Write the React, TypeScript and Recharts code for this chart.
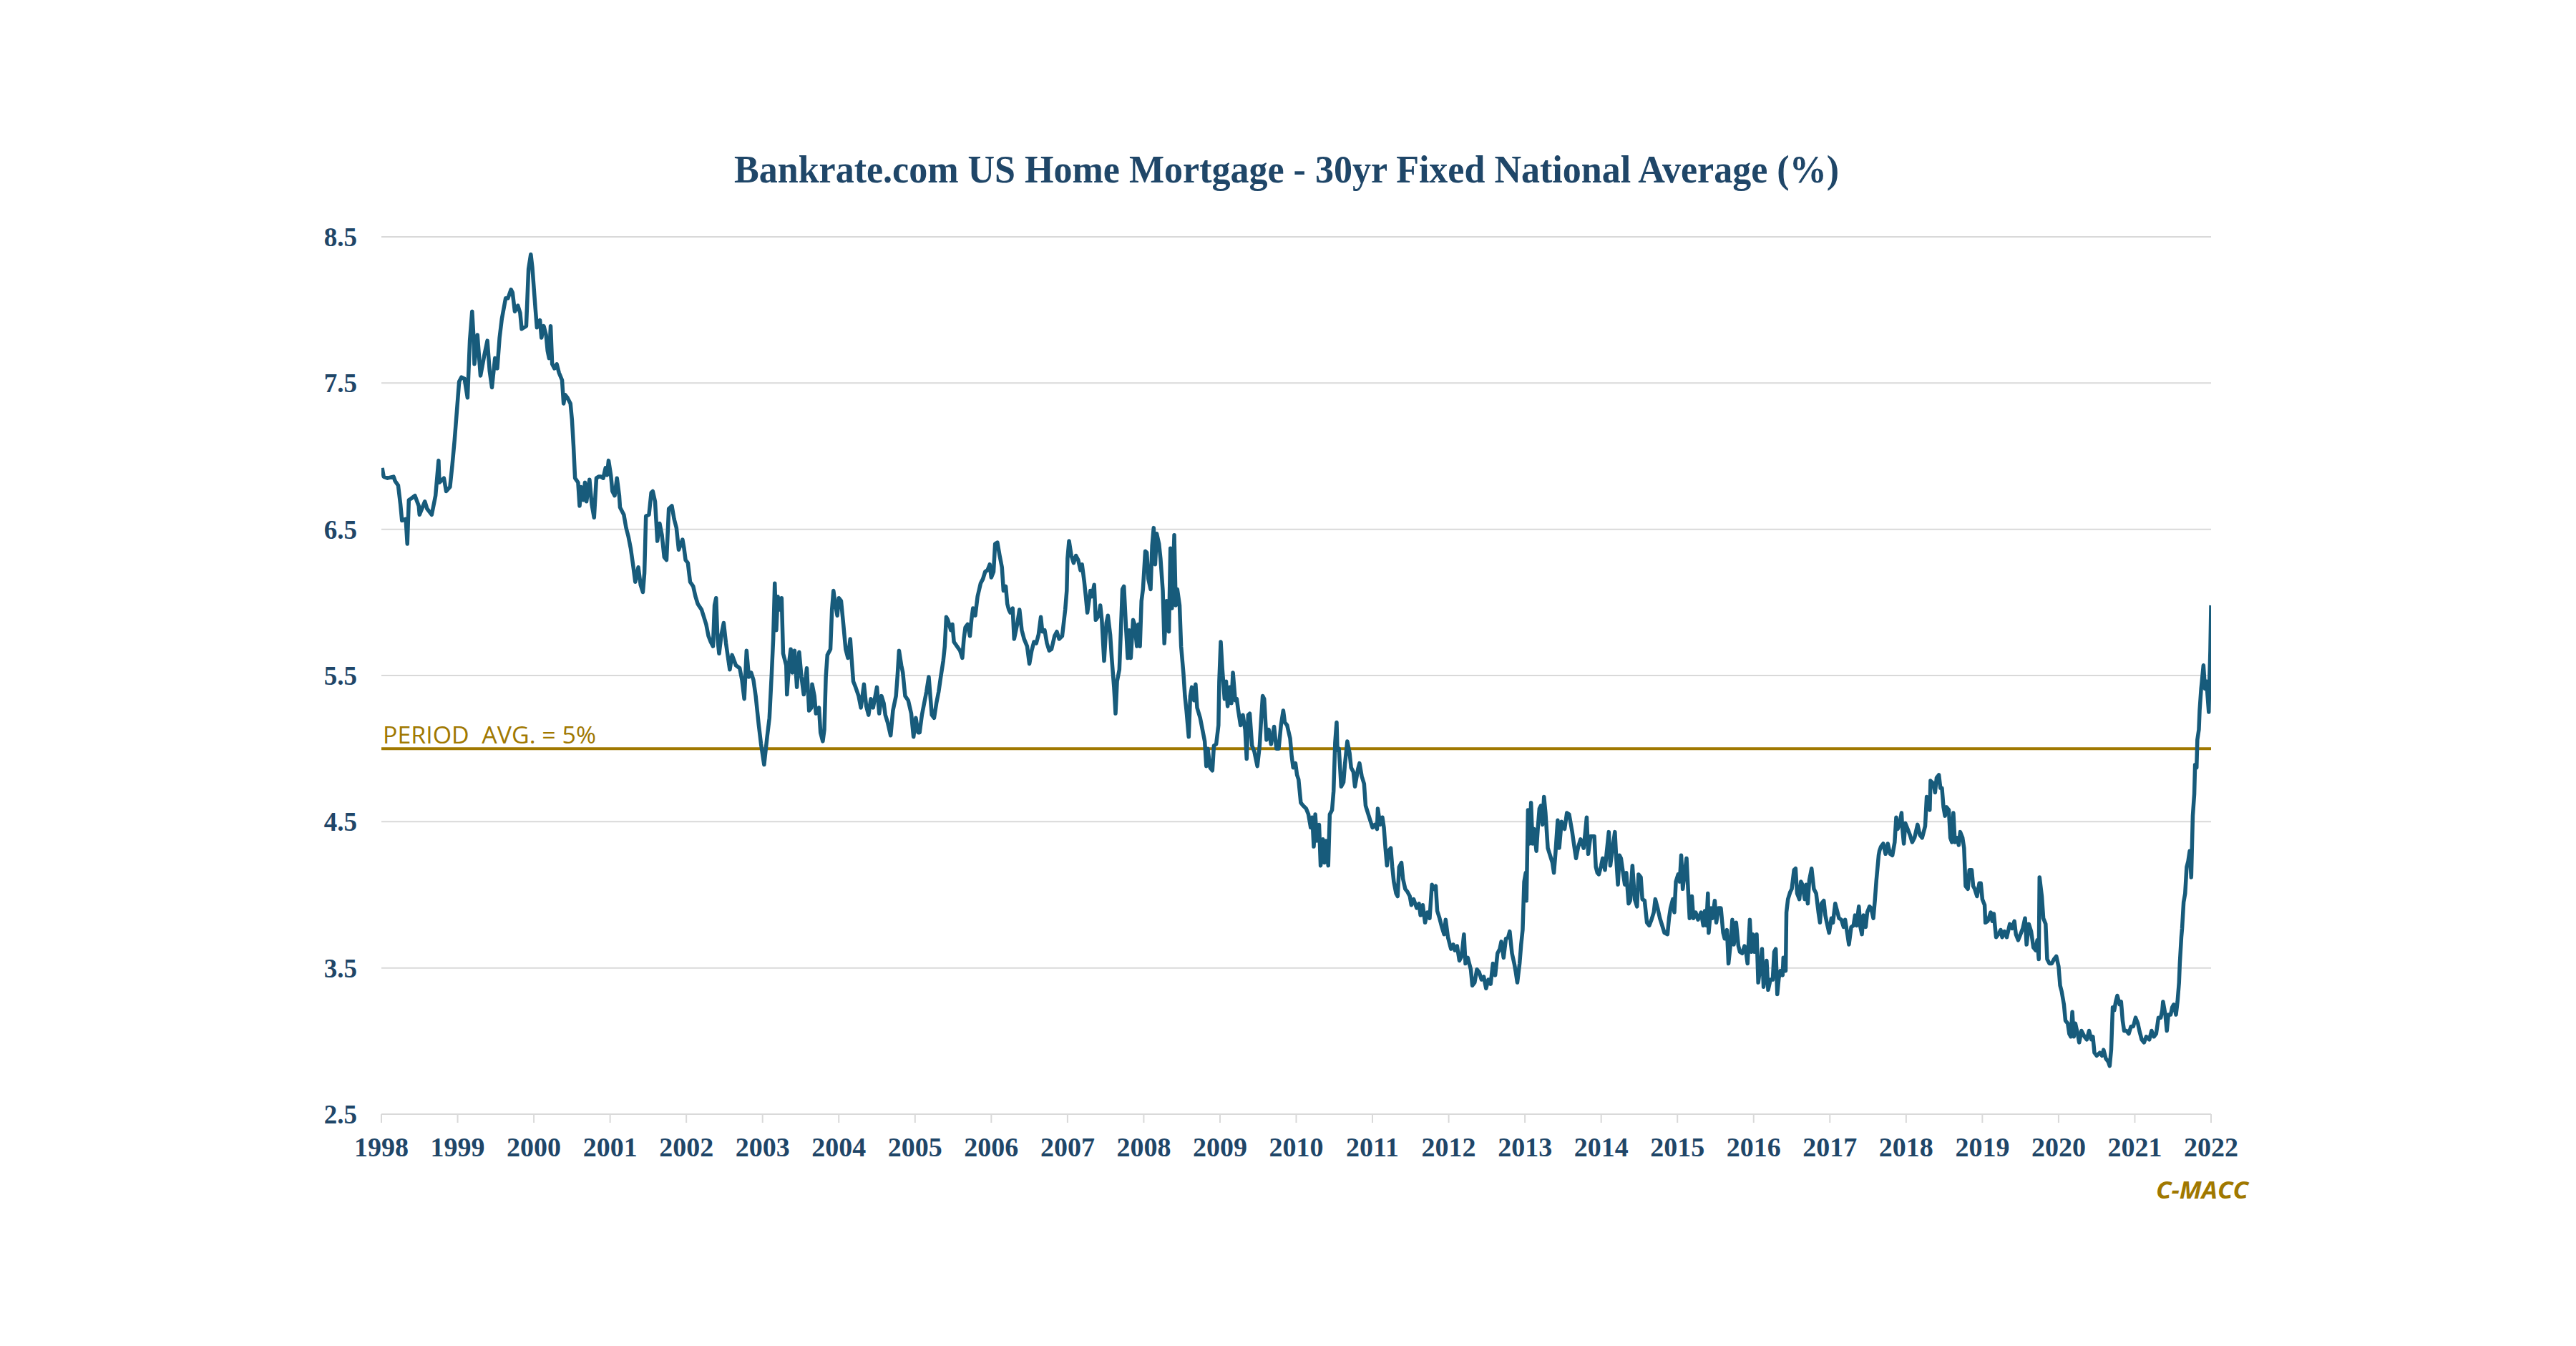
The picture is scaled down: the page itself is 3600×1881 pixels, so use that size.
import { CartesianGrid, Line, LineChart, ReferenceLine, XAxis, YAxis } from "recharts";

// Bankrate.com 30yr fixed national average as [year, rate %]
const rates1998: [number, number][] = [
  [1998.01, 6.92], [1998.03, 6.86], [1998.08, 6.85], [1998.16, 6.86], [1998.18, 6.83], [1998.22, 6.8],
  [1998.25, 6.67], [1998.27, 6.56], [1998.32, 6.57], [1998.34, 6.4], [1998.36, 6.7], [1998.39, 6.71],
  [1998.44, 6.73], [1998.49, 6.66], [1998.5, 6.6], [1998.57, 6.69], [1998.6, 6.64], [1998.66, 6.6],
  [1998.71, 6.73], [1998.75, 6.97], [1998.76, 6.82], [1998.82, 6.85], [1998.85, 6.76], [1998.9, 6.79],
  [1998.93, 6.94], [1998.96, 7.11], [1998.99, 7.31], [1999.02, 7.51], [1999.05, 7.54], [1999.09, 7.53],
  [1999.13, 7.4], [1999.16, 7.79], [1999.19, 7.99], [1999.21, 7.81], [1999.22, 7.63], [1999.26, 7.83],
  [1999.3, 7.55], [1999.35, 7.69], [1999.39, 7.79], [1999.42, 7.58], [1999.45, 7.47], [1999.49, 7.67],
  [1999.52, 7.6], [1999.55, 7.81], [1999.58, 7.94], [1999.63, 8.08], [1999.66, 8.08], [1999.7, 8.14],
  [1999.72, 8.12], [1999.75, 7.99], [1999.79, 8.03], [1999.82, 7.98], [1999.84, 7.87], [1999.9, 7.89],
  [1999.93, 8.28], [1999.96, 8.38], [1999.98, 8.29], [2000.02, 8.01], [2000.04, 7.88], [2000.08, 7.93],
  [2000.1, 7.81], [2000.13, 7.89], [2000.16, 7.83], [2000.18, 7.72], [2000.2, 7.67], [2000.22, 7.89],
  [2000.24, 7.63], [2000.27, 7.6], [2000.3, 7.63], [2000.33, 7.57], [2000.37, 7.52], [2000.39, 7.36],
  [2000.41, 7.42], [2000.44, 7.4], [2000.48, 7.36], [2000.5, 7.25], [2000.52, 7.07], [2000.54, 6.85],
  [2000.58, 6.82], [2000.6, 6.66], [2000.62, 6.79], [2000.65, 6.7], [2000.67, 6.82], [2000.69, 6.69],
  [2000.73, 6.84], [2000.76, 6.67], [2000.79, 6.58], [2000.82, 6.85], [2000.85, 6.86], [2000.88, 6.86],
  [2000.91, 6.85], [2000.94, 6.92], [2000.96, 6.87], [2000.98, 6.97], [2001.01, 6.87], [2001.03, 6.76],
  [2001.06, 6.73], [2001.09, 6.85], [2001.12, 6.73], [2001.13, 6.65], [2001.18, 6.6], [2001.21, 6.51],
  [2001.24, 6.45], [2001.27, 6.37], [2001.3, 6.26], [2001.33, 6.14], [2001.37, 6.24], [2001.4, 6.12],
  [2001.43, 6.07], [2001.45, 6.2], [2001.47, 6.59], [2001.51, 6.6], [2001.54, 6.75], [2001.56, 6.76],
  [2001.59, 6.69], [2001.62, 6.42], [2001.65, 6.54], [2001.68, 6.46], [2001.71, 6.31], [2001.74, 6.29],
  [2001.77, 6.64], [2001.81, 6.66], [2001.84, 6.57], [2001.87, 6.51], [2001.9, 6.36],
];

const rates2002: [number, number][] = [
  [2001.95, 6.43], [2001.97, 6.37], [2001.99, 6.29], [2002.02, 6.27], [2002.05, 6.14], [2002.09, 6.11],
  [2002.12, 6.04], [2002.15, 5.99], [2002.2, 5.95], [2002.23, 5.9], [2002.26, 5.85], [2002.29, 5.77],
  [2002.32, 5.73], [2002.35, 5.7], [2002.37, 5.98], [2002.39, 6.03], [2002.41, 5.75], [2002.43, 5.65],
  [2002.46, 5.78], [2002.49, 5.86], [2002.52, 5.72], [2002.57, 5.54], [2002.6, 5.64], [2002.65, 5.57],
  [2002.7, 5.55], [2002.73, 5.47], [2002.76, 5.34], [2002.79, 5.67], [2002.82, 5.49], [2002.85, 5.52],
  [2002.88, 5.47], [2002.91, 5.36], [2002.95, 5.16], [2002.98, 5.03], [2003.02, 4.89], [2003.06, 5.08],
  [2003.09, 5.21], [2003.12, 5.52], [2003.14, 5.75], [2003.16, 6.13], [2003.18, 5.81], [2003.2, 6.04],
  [2003.23, 5.95], [2003.25, 6.03], [2003.27, 5.65], [2003.31, 5.57], [2003.32, 5.37], [2003.35, 5.6],
  [2003.37, 5.68], [2003.39, 5.52], [2003.42, 5.67], [2003.45, 5.42], [2003.48, 5.66], [2003.51, 5.49],
  [2003.54, 5.37], [2003.58, 5.55], [2003.61, 5.26], [2003.64, 5.28], [2003.65, 5.44], [2003.68, 5.36],
  [2003.7, 5.24], [2003.74, 5.28], [2003.76, 5.11], [2003.79, 5.05], [2003.81, 5.13], [2003.83, 5.49],
  [2003.85, 5.64], [2003.89, 5.68], [2003.91, 5.95], [2003.93, 6.08], [2003.95, 6.0], [2003.98, 5.91],
  [2004.0, 6.03], [2004.03, 6.01], [2004.06, 5.85], [2004.09, 5.68], [2004.12, 5.62], [2004.15, 5.75],
  [2004.17, 5.6], [2004.19, 5.46], [2004.22, 5.42], [2004.26, 5.36], [2004.29, 5.28], [2004.33, 5.44],
  [2004.36, 5.29], [2004.39, 5.23], [2004.42, 5.34], [2004.45, 5.28], [2004.5, 5.42], [2004.53, 5.24],
  [2004.56, 5.36], [2004.59, 5.31], [2004.61, 5.23], [2004.64, 5.18], [2004.68, 5.09], [2004.71, 5.26],
  [2004.75, 5.36], [2004.77, 5.5], [2004.79, 5.67], [2004.82, 5.57], [2004.84, 5.52], [2004.87, 5.36],
  [2004.91, 5.33], [2004.95, 5.24], [2004.98, 5.08], [2005.01, 5.21], [2005.04, 5.11], [2005.06, 5.11],
  [2005.09, 5.23], [2005.12, 5.31], [2005.15, 5.39], [2005.18, 5.49], [2005.2, 5.36], [2005.22, 5.23],
  [2005.25, 5.21], [2005.28, 5.31], [2005.31, 5.39], [2005.34, 5.5], [2005.37, 5.6], [2005.39, 5.7],
  [2005.41, 5.9], [2005.43, 5.88], [2005.47, 5.81], [2005.49, 5.85], [2005.51, 5.73], [2005.55, 5.7],
  [2005.59, 5.67], [2005.62, 5.62], [2005.64, 5.75], [2005.66, 5.83], [2005.69, 5.85], [2005.72, 5.77],
  [2005.74, 5.88], [2005.76, 5.96], [2005.79, 5.91], [2005.82, 6.04], [2005.86, 6.13], [2005.89, 6.16],
  [2005.92, 6.21],
];

const rates2006: [number, number][] = [
  [2005.95, 6.22], [2005.98, 6.26], [2006.0, 6.17], [2006.03, 6.21], [2006.05, 6.4], [2006.08, 6.41],
  [2006.11, 6.32], [2006.14, 6.24], [2006.16, 6.08], [2006.19, 6.11], [2006.21, 5.99], [2006.23, 5.95],
  [2006.25, 5.93], [2006.28, 5.96], [2006.3, 5.75], [2006.34, 5.85], [2006.37, 5.95], [2006.4, 5.81],
  [2006.43, 5.75], [2006.47, 5.7], [2006.5, 5.58], [2006.53, 5.67], [2006.56, 5.73], [2006.59, 5.72],
  [2006.62, 5.78], [2006.65, 5.9], [2006.67, 5.8], [2006.7, 5.81], [2006.73, 5.72], [2006.76, 5.67],
  [2006.79, 5.68], [2006.83, 5.77], [2006.86, 5.8], [2006.89, 5.75], [2006.93, 5.77], [2006.97, 5.95],
  [2006.99, 6.08], [2007.0, 6.3], [2007.02, 6.42], [2007.05, 6.32], [2007.08, 6.27], [2007.11, 6.32],
  [2007.14, 6.29], [2007.17, 6.22], [2007.19, 6.26], [2007.22, 6.14], [2007.24, 6.04], [2007.26, 5.93],
  [2007.3, 6.08], [2007.32, 6.04], [2007.35, 6.12], [2007.37, 5.88], [2007.41, 5.91], [2007.43, 5.98],
  [2007.45, 5.88], [2007.48, 5.6], [2007.51, 5.86], [2007.53, 5.91], [2007.56, 5.78], [2007.58, 5.62],
  [2007.61, 5.42], [2007.63, 5.24], [2007.65, 5.46], [2007.68, 5.54], [2007.7, 5.81], [2007.72, 6.09],
  [2007.74, 6.11], [2007.77, 5.8], [2007.79, 5.62], [2007.81, 5.81], [2007.83, 5.62], [2007.86, 5.88],
  [2007.88, 5.85], [2007.91, 5.7], [2007.93, 5.85], [2007.95, 5.7], [2007.97, 6.01], [2007.99, 6.09],
  [2008.02, 6.35], [2008.04, 6.34], [2008.06, 6.16], [2008.09, 6.09], [2008.11, 6.39], [2008.13, 6.51],
  [2008.15, 6.26], [2008.17, 6.47], [2008.2, 6.4], [2008.22, 6.3], [2008.25, 6.08], [2008.27, 5.72],
  [2008.3, 6.01], [2008.33, 5.8], [2008.35, 6.37], [2008.37, 5.96], [2008.4, 6.46], [2008.42, 5.98],
  [2008.44, 6.09], [2008.47, 5.98], [2008.49, 5.7], [2008.52, 5.52], [2008.54, 5.36], [2008.56, 5.26],
  [2008.59, 5.08], [2008.61, 5.36], [2008.63, 5.42], [2008.66, 5.33], [2008.68, 5.44], [2008.7, 5.28],
  [2008.74, 5.21], [2008.77, 5.13], [2008.8, 5.05], [2008.82, 4.88], [2008.84, 5.0], [2008.87, 4.87],
  [2008.9, 4.85], [2008.92, 5.02], [2008.95, 5.03], [2008.98, 5.16], [2008.99, 5.46], [2009.01, 5.73],
  [2009.03, 5.55], [2009.06, 5.34], [2009.08, 5.46], [2009.1, 5.29], [2009.13, 5.42], [2009.15, 5.31],
  [2009.17, 5.52], [2009.2, 5.33], [2009.22, 5.34], [2009.24, 5.26], [2009.27, 5.16], [2009.3, 5.23],
  [2009.33, 5.13], [2009.35, 4.93], [2009.37, 5.23], [2009.39, 5.24], [2009.42, 5.02], [2009.45, 4.98],
  [2009.49, 4.88], [2009.52, 5.02], [2009.54, 5.2], [2009.56, 5.36], [2009.58, 5.34], [2009.61, 5.06],
  [2009.64, 5.13], [2009.67, 5.03], [2009.71, 5.15], [2009.74, 5.0], [2009.77, 5.0], [2009.8, 5.16],
  [2009.83, 5.26], [2009.85, 5.18], [2009.88, 5.16],
];

const rates2010: [number, number][] = [
  [2009.92, 5.07], [2009.94, 4.95], [2009.96, 4.87], [2009.99, 4.9], [2010.01, 4.82], [2010.03, 4.79],
  [2010.06, 4.63], [2010.09, 4.61], [2010.13, 4.59], [2010.16, 4.55], [2010.19, 4.46], [2010.21, 4.53],
  [2010.23, 4.33], [2010.25, 4.55], [2010.27, 4.37], [2010.3, 4.48], [2010.32, 4.2], [2010.35, 4.38],
  [2010.37, 4.22], [2010.39, 4.37], [2010.42, 4.2], [2010.44, 4.55], [2010.47, 4.58], [2010.49, 4.71],
  [2010.51, 5.04], [2010.53, 5.18], [2010.54, 4.99], [2010.56, 5.0], [2010.59, 4.74], [2010.62, 4.77],
  [2010.64, 4.9], [2010.67, 5.05], [2010.7, 4.97], [2010.72, 4.87], [2010.75, 4.84], [2010.77, 4.74],
  [2010.81, 4.86], [2010.83, 4.9], [2010.86, 4.81], [2010.89, 4.76], [2010.91, 4.61], [2010.94, 4.56],
  [2010.97, 4.51], [2011.0, 4.46], [2011.03, 4.48], [2011.06, 4.45], [2011.07, 4.59], [2011.1, 4.48],
  [2011.13, 4.53], [2011.15, 4.46], [2011.17, 4.32], [2011.19, 4.2], [2011.21, 4.3], [2011.24, 4.32],
  [2011.26, 4.19], [2011.28, 4.09], [2011.31, 4.01], [2011.33, 3.99], [2011.35, 4.19], [2011.38, 4.22],
  [2011.4, 4.11], [2011.43, 4.04], [2011.46, 4.02], [2011.49, 3.99], [2011.51, 3.93], [2011.54, 3.97],
  [2011.58, 3.91], [2011.61, 3.94], [2011.63, 3.86], [2011.66, 3.93], [2011.69, 3.81], [2011.72, 3.88],
  [2011.75, 3.84], [2011.78, 4.07], [2011.8, 4.04], [2011.83, 4.06], [2011.85, 3.89], [2011.88, 3.84],
  [2011.91, 3.78], [2011.94, 3.73], [2011.96, 3.83], [2011.99, 3.71], [2012.03, 3.63], [2012.06, 3.66],
  [2012.08, 3.62], [2012.11, 3.65], [2012.14, 3.55], [2012.17, 3.58], [2012.2, 3.73], [2012.22, 3.53],
  [2012.25, 3.57], [2012.29, 3.49], [2012.31, 3.38], [2012.34, 3.4], [2012.37, 3.49], [2012.4, 3.47],
  [2012.43, 3.42], [2012.46, 3.44], [2012.49, 3.36], [2012.52, 3.42], [2012.55, 3.39], [2012.58, 3.53],
  [2012.61, 3.45], [2012.64, 3.6], [2012.67, 3.63], [2012.69, 3.68], [2012.72, 3.57], [2012.75, 3.7],
  [2012.78, 3.71], [2012.8, 3.75], [2012.83, 3.6], [2012.86, 3.53], [2012.88, 3.47], [2012.9, 3.4],
  [2012.93, 3.53], [2012.95, 3.66], [2012.97, 3.76], [2012.99, 4.09], [2013.01, 4.15], [2013.02, 3.96],
  [2013.04, 4.58], [2013.06, 4.35], [2013.08, 4.63], [2013.1, 4.35], [2013.12, 4.45], [2013.15, 4.3],
  [2013.17, 4.46], [2013.19, 4.59], [2013.21, 4.61], [2013.23, 4.48], [2013.25, 4.67], [2013.27, 4.56],
  [2013.3, 4.32], [2013.33, 4.27], [2013.36, 4.22], [2013.38, 4.15], [2013.4, 4.28], [2013.43, 4.51],
  [2013.45, 4.32], [2013.48, 4.5], [2013.52, 4.45], [2013.55, 4.56], [2013.58, 4.55], [2013.62, 4.43],
  [2013.65, 4.32], [2013.67, 4.25], [2013.7, 4.33], [2013.73, 4.38], [2013.77, 4.32], [2013.79, 4.42],
  [2013.81, 4.53], [2013.83, 4.28], [2013.86, 4.4],
];

const rates2014: [number, number][] = [
  [2013.91, 4.4], [2013.93, 4.19], [2013.95, 4.15], [2013.97, 4.14], [2014.0, 4.2], [2014.02, 4.25],
  [2014.05, 4.17], [2014.07, 4.28], [2014.1, 4.43], [2014.12, 4.2], [2014.15, 4.32], [2014.18, 4.43],
  [2014.2, 4.23], [2014.22, 4.07], [2014.24, 4.27], [2014.26, 4.25], [2014.29, 4.14], [2014.31, 4.07],
  [2014.33, 4.15], [2014.36, 3.94], [2014.38, 3.96], [2014.41, 4.2], [2014.44, 3.97], [2014.47, 3.92],
  [2014.49, 4.14], [2014.52, 4.12], [2014.54, 3.97], [2014.57, 3.96], [2014.6, 3.81], [2014.63, 3.79],
  [2014.66, 3.83], [2014.69, 3.88], [2014.71, 3.97], [2014.74, 3.91], [2014.77, 3.84], [2014.8, 3.79],
  [2014.83, 3.74], [2014.87, 3.73], [2014.89, 3.84], [2014.91, 3.91], [2014.94, 3.97], [2014.96, 3.88],
  [2014.98, 4.09], [2015.01, 4.14], [2015.03, 4.09], [2015.05, 4.27], [2015.07, 4.04], [2015.1, 4.17],
  [2015.12, 4.25], [2015.14, 4.04], [2015.16, 3.84], [2015.19, 3.99], [2015.21, 3.84], [2015.24, 3.88],
  [2015.27, 3.83], [2015.31, 3.88], [2015.34, 3.79], [2015.36, 3.89], [2015.38, 3.79], [2015.4, 4.01],
  [2015.41, 3.74], [2015.44, 3.91], [2015.46, 3.84], [2015.49, 3.96], [2015.51, 3.81], [2015.54, 3.91],
  [2015.57, 3.91], [2015.6, 3.74], [2015.62, 3.7], [2015.65, 3.76], [2015.67, 3.53], [2015.7, 3.68],
  [2015.72, 3.83], [2015.74, 3.66], [2015.77, 3.81], [2015.8, 3.65], [2015.82, 3.61], [2015.85, 3.6],
  [2015.88, 3.65], [2015.9, 3.61], [2015.92, 3.53], [2015.95, 3.83], [2015.97, 3.61], [2015.99, 3.73],
  [2016.01, 3.61], [2016.04, 3.73], [2016.06, 3.4], [2016.09, 3.52], [2016.11, 3.63], [2016.13, 3.37],
  [2016.17, 3.55], [2016.19, 3.35], [2016.22, 3.42], [2016.25, 3.42], [2016.27, 3.61], [2016.29, 3.63],
  [2016.31, 3.32], [2016.33, 3.43], [2016.35, 3.48], [2016.38, 3.45], [2016.39, 3.57], [2016.42, 3.48],
  [2016.43, 3.88], [2016.45, 3.97], [2016.48, 4.02], [2016.5, 4.04], [2016.53, 4.17], [2016.55, 4.18],
  [2016.57, 4.01], [2016.6, 3.97], [2016.62, 4.09], [2016.64, 4.07], [2016.67, 3.97], [2016.69, 4.07],
  [2016.71, 3.94], [2016.73, 4.1], [2016.76, 4.18], [2016.79, 4.04], [2016.82, 4.01], [2016.85, 3.88],
  [2016.87, 3.81], [2016.89, 3.94], [2016.92, 3.96], [2016.94, 3.86], [2016.96, 3.81], [2016.99, 3.74],
  [2017.02, 3.84], [2017.04, 3.81], [2017.07, 3.94], [2017.1, 3.88], [2017.12, 3.84], [2017.15, 3.83],
  [2017.18, 3.78], [2017.2, 3.83], [2017.23, 3.73], [2017.25, 3.66], [2017.28, 3.78], [2017.31, 3.79],
  [2017.33, 3.86], [2017.35, 3.79], [2017.38, 3.92], [2017.4, 3.78], [2017.42, 3.73], [2017.44, 3.86],
  [2017.47, 3.78], [2017.49, 3.88], [2017.52, 3.92], [2017.54, 3.91], [2017.57, 3.84], [2017.59, 3.96],
  [2017.61, 4.1], [2017.64, 4.27], [2017.65, 4.3], [2017.67, 4.33], [2017.7, 4.35], [2017.73, 4.28],
  [2017.76, 4.35], [2017.79, 4.28], [2017.82, 4.27], [2017.85, 4.36], [2017.87, 4.53], [2017.89, 4.45],
  [2017.92, 4.5], [2017.94, 4.56], [2017.95, 4.46], [2017.97, 4.35],
];

const rates2018: [number, number][] = [
  [2017.99, 4.49], [2018.02, 4.45], [2018.05, 4.41], [2018.08, 4.36], [2018.11, 4.39], [2018.15, 4.48],
  [2018.18, 4.41], [2018.21, 4.39], [2018.25, 4.47], [2018.27, 4.67], [2018.29, 4.65], [2018.31, 4.58],
  [2018.32, 4.78], [2018.36, 4.76], [2018.38, 4.7], [2018.4, 4.8], [2018.43, 4.82], [2018.45, 4.73],
  [2018.47, 4.73], [2018.49, 4.6], [2018.51, 4.54], [2018.53, 4.6], [2018.56, 4.58], [2018.58, 4.39],
  [2018.6, 4.36], [2018.62, 4.56], [2018.64, 4.36], [2018.67, 4.39], [2018.69, 4.34], [2018.71, 4.43],
  [2018.74, 4.39], [2018.76, 4.32], [2018.78, 4.06], [2018.81, 4.04], [2018.83, 4.17], [2018.86, 4.17],
  [2018.88, 4.06], [2018.9, 4.04], [2018.93, 3.99], [2018.96, 4.08], [2018.98, 4.08], [2019.0, 3.97],
  [2019.03, 3.93], [2019.04, 3.81], [2019.07, 3.82], [2019.11, 3.88], [2019.13, 3.82], [2019.15, 3.87],
  [2019.18, 3.71], [2019.21, 3.73], [2019.24, 3.76], [2019.26, 3.71], [2019.29, 3.75], [2019.32, 3.71],
  [2019.36, 3.8], [2019.39, 3.77], [2019.42, 3.82], [2019.44, 3.73], [2019.47, 3.69], [2019.5, 3.73],
  [2019.53, 3.77], [2019.56, 3.84], [2019.58, 3.66], [2019.61, 3.8], [2019.64, 3.75], [2019.67, 3.64],
  [2019.7, 3.62], [2019.72, 3.69], [2019.74, 3.56], [2019.75, 4.12], [2019.78, 3.99], [2019.8, 3.84],
  [2019.83, 3.8], [2019.85, 3.56], [2019.88, 3.53], [2019.91, 3.53], [2019.94, 3.56], [2019.97, 3.58],
  [2020.0, 3.51], [2020.02, 3.38], [2020.04, 3.34], [2020.07, 3.25], [2020.09, 3.14], [2020.12, 3.12],
  [2020.14, 3.05], [2020.16, 3.03], [2020.18, 3.2], [2020.2, 3.03], [2020.22, 3.12], [2020.25, 3.05],
  [2020.27, 2.99], [2020.3, 3.07], [2020.34, 3.03], [2020.37, 3.01], [2020.4, 3.07], [2020.43, 3.01],
  [2020.45, 3.03], [2020.47, 2.92], [2020.5, 2.9], [2020.54, 2.92], [2020.57, 2.9], [2020.59, 2.94],
  [2020.62, 2.88], [2020.65, 2.86], [2020.67, 2.83], [2020.69, 2.94], [2020.71, 3.23], [2020.73, 3.21],
  [2020.75, 3.27], [2020.77, 3.31], [2020.8, 3.25], [2020.82, 3.27], [2020.84, 3.14], [2020.86, 3.07],
  [2020.89, 3.07], [2020.92, 3.05], [2020.95, 3.1], [2020.98, 3.1], [2021.01, 3.16], [2021.04, 3.12],
  [2021.06, 3.07], [2021.09, 3.01], [2021.12, 2.99], [2021.15, 3.03], [2021.19, 3.01], [2021.22, 3.07],
  [2021.25, 3.03], [2021.28, 3.05], [2021.31, 3.16], [2021.34, 3.16], [2021.36, 3.21], [2021.37, 3.27],
  [2021.4, 3.18], [2021.42, 3.07], [2021.44, 3.18], [2021.47, 3.18], [2021.49, 3.23], [2021.51, 3.25],
  [2021.54, 3.18], [2021.56, 3.27], [2021.58, 3.4], [2021.59, 3.53], [2021.61, 3.71], [2021.62, 3.77],
  [2021.64, 3.95], [2021.66, 4.01], [2021.68, 4.19], [2021.7, 4.23], [2021.72, 4.3], [2021.74, 4.12],
  [2021.76, 4.54], [2021.78, 4.69], [2021.79, 4.89], [2021.81, 4.87], [2021.82, 5.06], [2021.84, 5.13],
  [2021.85, 5.26], [2021.87, 5.41], [2021.88, 5.46], [2021.9, 5.57], [2021.92, 5.41], [2021.94, 5.46],
  [2021.95, 5.39], [2021.97, 5.25], [2021.98, 5.48], [2021.99, 5.67], [2022.0, 5.98],
];

const yearTicks = [
  1998, 1999, 2000, 2001, 2002, 2003, 2004, 2005, 2006, 2007, 2008, 2009, 2010,
  2011, 2012, 2013, 2014, 2015, 2016, 2017, 2018, 2019, 2020, 2021, 2022,
];
const rateTicks = [2.5, 3.5, 4.5, 5.5, 6.5, 7.5, 8.5];
const periodAvg = 5;

const NAVY = "#1F4668";
const LINE = "#175B7B";
const GOLD = "#A07800";
const GRID = "#D9D9D9";

const series = [...rates1998, ...rates2002, ...rates2006, ...rates2010, ...rates2014, ...rates2018].map(
  ([year, rate]) => ({ year, rate })
);

const XTick = ({ x, y, payload }: any) => (
  <text x={x} y={y + 47} textAnchor="middle" fontFamily="Liberation Serif" fontWeight="bold" fontSize={38} fill={NAVY}>
    {payload.value}
  </text>
);

const YTick = ({ x, y, payload }: any) => (
  <text x={x} y={y + 13} textAnchor="end" fontFamily="Liberation Serif" fontWeight="bold" fontSize={37} fill={NAVY}>
    {Number(payload.value).toFixed(1)}
  </text>
);

const AvgLabel = ({ viewBox }: any) => (
  <text
    x={viewBox.x + 2}
    y={viewBox.y - 7}
    fontFamily="Open Sans"
    fontSize={32}
    fill={GOLD}
    textLength={298}
    lengthAdjust="spacingAndGlyphs"
    style={{ whiteSpace: "pre" }}
  >
    {"PERIOD  AVG. = 5%"}
  </text>
);

export default function App() {
  return (
    <div style={{ position: "absolute", left: 0, top: 0, width: 3600, height: 1881, background: "#fff" }}>
      <LineChart width={3600} height={1881} data={series} margin={{ top: 331, right: 510, bottom: 244, left: 413 }}>
        <CartesianGrid vertical={false} stroke={GRID} strokeWidth={2} />
        <XAxis
          dataKey="year"
          type="number"
          domain={[1998, 2022]}
          ticks={yearTicks}
          interval={0}
          allowDataOverflow
          height={80}
          tickSize={12}
          tickMargin={0}
          axisLine={{ stroke: GRID, strokeWidth: 2 }}
          tickLine={{ stroke: GRID, strokeWidth: 2 }}
          tick={(p: any) => <XTick {...p} />}
        />
        <YAxis
          type="number"
          domain={[2.5, 8.5]}
          ticks={rateTicks}
          interval={0}
          width={120}
          axisLine={false}
          tickLine={false}
          tickSize={0}
          tickMargin={34}
          tick={(p: any) => <YTick {...p} />}
        />
        <ReferenceLine y={periodAvg} stroke={GOLD} strokeWidth={4} label={(p: any) => <AvgLabel {...p} />} />
        <Line
          type="linear"
          dataKey="rate"
          stroke={LINE}
          strokeWidth={5.5}
          strokeLinejoin="round"
          dot={false}
          activeDot={false}
          isAnimationActive={false}
        />
      </LineChart>
      <svg width={3600} height={1881} style={{ position: "absolute", left: 0, top: 0, pointerEvents: "none" }}>
        <text
          x={1798}
          y={255}
          textAnchor="middle"
          fontFamily="Liberation Serif"
          fontWeight="bold"
          fontSize={54}
          fill={NAVY}
          textLength={1544}
          lengthAdjust="spacingAndGlyphs"
        >
          Bankrate.com US Home Mortgage - 30yr Fixed National Average (%)
        </text>
        <text
          x={3013}
          y={1675}
          fontFamily="Open Sans"
          fontWeight="bold"
          fontStyle="italic"
          fontSize={34}
          fill={GOLD}
          textLength={129}
          lengthAdjust="spacingAndGlyphs"
        >
          C-MACC
        </text>
      </svg>
    </div>
  );
}
